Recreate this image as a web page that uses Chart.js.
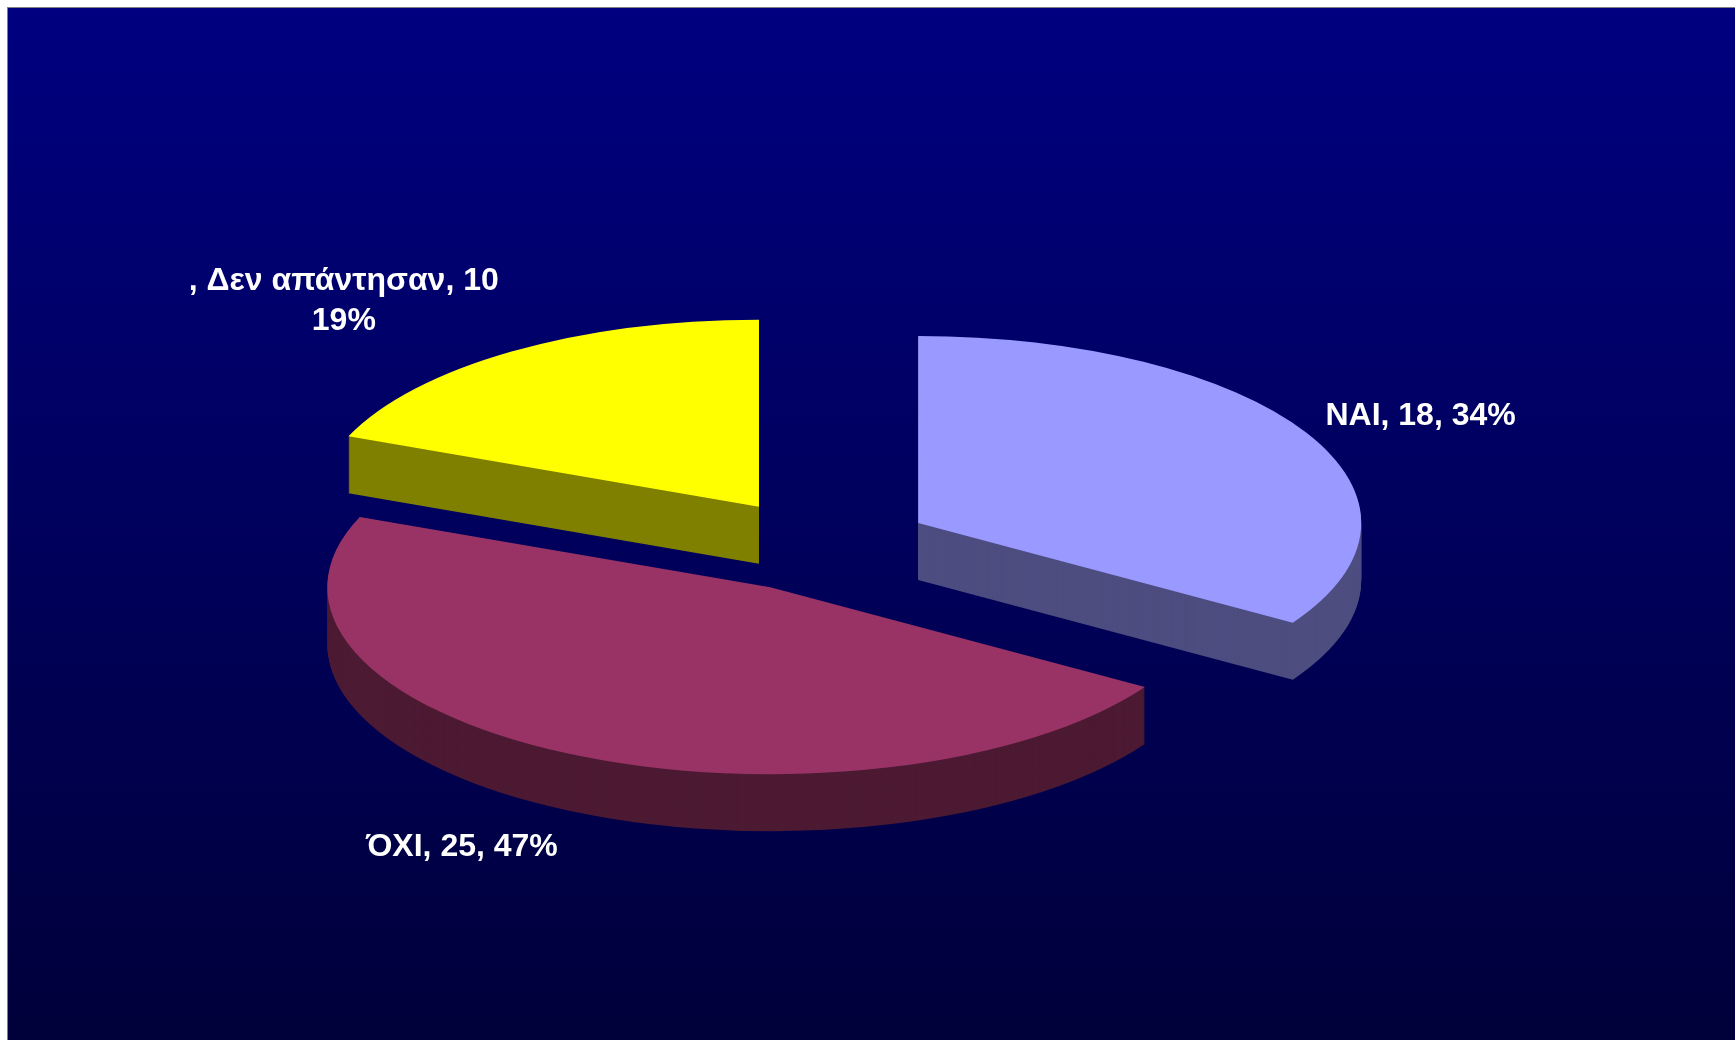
<!DOCTYPE html>
<html>
<head>
<meta charset="utf-8">
<script src="https://cdn.jsdelivr.net/npm/chart.js@4.4.0/dist/chart.umd.min.js"></script>
<style>
body{margin:0;background:#fff;overflow:hidden}
#frame{position:absolute;left:7px;top:7px;width:1727px;height:1032px;border-left:1px solid #808080;border-top:1px solid #808080}
</style>
</head>
<body>
<div id="frame"><canvas id="pie"></canvas></div>
<script>
const answers = ['ΝΑΙ', 'ΌΧΙ', 'Δεν απάντησαν']
const counts = [18, 25, 10]

const topColors = ['#9999FF', '#993366', '#FFFF00']
const sideColors = ['#4D4D80', '#4D1A33', '#808000']

const tilt = 187 / 443   // vertical squash of the pie
const depth = 57         // thickness of the slab, px
const explode = 111      // how far each slice is pulled out
// label distance (x radius) + small nudge
const labelAt = [[1.53, 6, 6], [1.80, 5, 0], [1.71, -54, 18]]
const wrapped = [false, false, true]

const pie3d = {
  id: 'pie3d',
  beforeDraw(chart){
    const {ctx, width, height} = chart
    const g = ctx.createLinearGradient(0, 0, 0, height)
    g.addColorStop(0, '#000080')
    g.addColorStop(1, '#00003A')
    ctx.save()
    ctx.fillStyle = g
    ctx.fillRect(0, 0, width, height)
    ctx.restore()
  },
  beforeDatasetsDraw(chart){
    const ctx = chart.ctx
    const arcs = chart.getDatasetMeta(0).data
    const tilted = (arc, fn) => {
      const mid = (arc.startAngle + arc.endAngle) / 2
      ctx.save()
      ctx.translate(arc.x, arc.y)
      ctx.scale(1, tilt)
      ctx.translate(-arc.x, -arc.y)
      ctx.translate(Math.cos(mid) * explode, Math.sin(mid) * explode)
      fn()
      ctx.restore()
    }
    // sides first
    arcs.forEach((arc, i) => tilted(arc, () => {
      ctx.fillStyle = sideColors[i]
      for(let d = depth; d > 0; d--){
        const y = arc.y + d / tilt
        ctx.beginPath()
        ctx.moveTo(arc.x, y)
        ctx.arc(arc.x, y, arc.outerRadius, arc.startAngle, arc.endAngle)
        ctx.closePath()
        ctx.fill()
      }
    }))
    // then the tops
    arcs.forEach(arc => tilted(arc, () => arc.draw(ctx)))
    return false
  },
  afterDraw(chart){
    const ctx = chart.ctx
    const arcs = chart.getDatasetMeta(0).data
    const total = counts.reduce((a, b) => a + b, 0)
    ctx.save()
    ctx.fillStyle = '#fff'
    ctx.font = 'bold 32px "Liberation Sans", Arial, sans-serif'
    ctx.textAlign = 'center'
    ctx.textBaseline = 'alphabetic'
    arcs.forEach((arc, i) => {
      const mid = (arc.startAngle + arc.endAngle) / 2
      const [k, nx, ny] = labelAt[i]
      const lx = arc.x + Math.cos(mid) * arc.outerRadius * k + nx
      const ly = arc.y + Math.sin(mid) * arc.outerRadius * tilt * k + ny
      const pct = Math.round(counts[i] / total * 100) + '%'
      const lines = wrapped[i]
        ? [', ' + answers[i] + ', ' + counts[i], pct]
        : [answers[i] + ', ' + counts[i] + ', ' + pct]
      lines.forEach((t, j) => {
        ctx.fillText(t, lx, ly + 11.5 + (j - (lines.length - 1) / 2) * 40)
      })
    })
    ctx.restore()
  }
}

new Chart('pie', {
  type: 'pie',
  data: {
    labels: answers,
    datasets: [{
      data: counts,
      backgroundColor: topColors,
      borderWidth: 0,
      radius: 443
    }]
  },
  options: {
    responsive: true,
    maintainAspectRatio: false,
    animation: false,
    events: [],
    layout: {padding: {left: 370, top: 94.5, right: 471, bottom: 51.5}},
    plugins: {
      legend: {display: false},
      tooltip: {enabled: false}
    }
  },
  plugins: [pie3d]
})
</script>
</body>
</html>
